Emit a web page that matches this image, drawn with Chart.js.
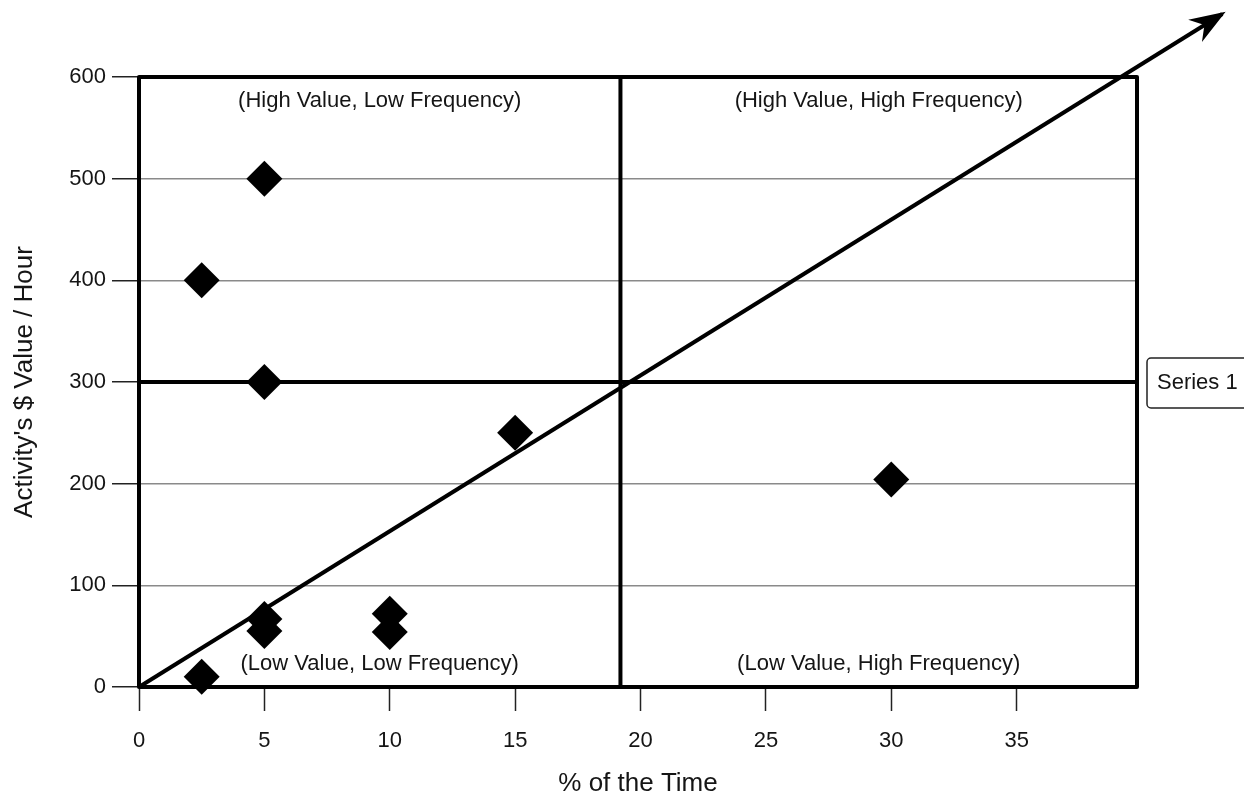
<!DOCTYPE html>
<html>
<head>
<meta charset="utf-8">
<script src="https://cdn.jsdelivr.net/npm/chart.js@4/dist/chart.umd.min.js"></script>
<style>
  html, body { margin: 0; padding: 0; background: #fff; }
  #wrap { width: 1244px; height: 797px; }
</style>
</head>
<body>
<div id="wrap"><canvas id="chart"></canvas></div>
<script>
// data
const pctTime     = [2.5, 5, 5, 10, 10, 2.5, 5, 5, 15, 30];
const dollarValue = [10, 55, 67, 54, 72, 400, 500, 300, 250, 204];
const trendX = [0, 43.2];
const trendY = [0, 662];
const xTicks = [0, 5, 10, 15, 20, 25, 30, 35];
const xMax = 39.8;
const yMax = 600;
const dividerX = 19.2;
const dividerY = 300;
const quadrantLabels = [
  '(High Value, Low Frequency)',
  '(High Value, High Frequency)',
  '(Low Value, Low Frequency)',
  '(Low Value, High Frequency)'
];
const seriesName = 'Series 1';

const FONT = "'Liberation Sans', Arial, sans-serif";
const INK = '#151515';

const quadrantPlugin = {
  id: 'quadrants',
  beforeDatasetsDraw(chart) {
    const { ctx, chartArea: a, scales: { x, y } } = chart;
    ctx.save();
    ctx.strokeStyle = '#000';
    ctx.lineWidth = 4;
    ctx.lineJoin = 'round';
    ctx.strokeRect(a.left, a.top, a.right - a.left, a.bottom - a.top);
    const dx = x.getPixelForValue(dividerX);
    const dy = y.getPixelForValue(dividerY);
    ctx.beginPath();
    ctx.moveTo(dx, a.top); ctx.lineTo(dx, a.bottom);
    ctx.moveTo(a.left, dy); ctx.lineTo(a.right, dy);
    ctx.stroke();

    ctx.fillStyle = INK;
    ctx.font = '22px ' + FONT;
    ctx.textAlign = 'center';
    ctx.textBaseline = 'middle';
    const cxL = (a.left + dx) / 2, cxR = (dx + a.right) / 2;
    ctx.fillText(quadrantLabels[0], cxL, a.top + 24);
    ctx.fillText(quadrantLabels[1], cxR, a.top + 24);
    ctx.fillText(quadrantLabels[2], cxL, a.bottom - 23);
    ctx.fillText(quadrantLabels[3], cxR, a.bottom - 23);
    ctx.restore();
  },
  afterDatasetsDraw(chart) {
    const { ctx, chartArea: a, scales: { x, y } } = chart;
    // arrow head at the end of the trend line
    const x0 = x.getPixelForValue(trendX[0]), y0 = y.getPixelForValue(trendY[0]);
    const x1 = x.getPixelForValue(trendX[1]), y1 = y.getPixelForValue(trendY[1]);
    const ang = Math.atan2(y1 - y0, x1 - x0);
    const len = 32, half = 13;
    ctx.save();
    ctx.translate(x1, y1);
    ctx.rotate(ang);
    ctx.fillStyle = '#000';
    ctx.beginPath();
    ctx.moveTo(4, 0);
    ctx.lineTo(-len, -half);
    ctx.lineTo(-len + 11, 0);
    ctx.lineTo(-len, half);
    ctx.closePath();
    ctx.fill();
    ctx.restore();

    // legend box
    ctx.save();
    const bx = a.right + 10, bh = 50, by = (a.top + a.bottom) / 2 - bh / 2 + 1;
    ctx.strokeStyle = '#222';
    ctx.lineWidth = 1.5;
    ctx.beginPath();
    ctx.roundRect(bx, by, 120, bh, 4);
    ctx.fillStyle = '#fff';
    ctx.fill();
    ctx.stroke();
    ctx.fillStyle = INK;
    ctx.font = '22px ' + FONT;
    ctx.textAlign = 'left';
    ctx.textBaseline = 'middle';
    ctx.fillText(seriesName, bx + 10, by + bh / 2);
    ctx.restore();
  }
};

new Chart(document.getElementById('chart'), {
  type: 'scatter',
  data: {
    datasets: [
      {
        label: seriesName,
        data: pctTime.map((v, i) => ({ x: v, y: dollarValue[i] })),
        pointStyle: 'rectRot',
        pointRadius: 18,
        pointHoverRadius: 18,
        backgroundColor: '#000',
        borderColor: '#000',
        borderWidth: 0,
        clip: false
      },
      {
        label: 'trend',
        data: trendX.map((v, i) => ({ x: v, y: trendY[i] })),
        showLine: true,
        borderColor: '#000',
        borderWidth: 4,
        pointRadius: 0,
        clip: false
      }
    ]
  },
  options: {
    responsive: true,
    maintainAspectRatio: false,
    animation: false,
    layout: { padding: { left: 0, top: 77, right: 107, bottom: 0 } },
    plugins: { legend: { display: false }, tooltip: { enabled: false } },
    scales: {
      x: {
        type: 'linear',
        min: 0,
        max: xMax,
        afterBuildTicks: (scale) => { scale.ticks = xTicks.map(v => ({ value: v })); },
        afterFit: (scale) => { scale.height = 110; },
        border: { display: false },
        grid: { drawOnChartArea: false, tickLength: 24, tickColor: '#222', tickWidth: 1.5 },
        ticks: { color: INK, font: { family: FONT, size: 22 }, padding: 17, maxRotation: 0 },
        title: { display: true, text: '% of the Time', color: INK, font: { family: FONT, size: 26 }, padding: { top: 0, bottom: -2 } }
      },
      y: {
        min: 0,
        max: yMax,
        ticks: { stepSize: 100, color: INK, font: { family: FONT, size: 22 }, padding: 6 },
        afterFit: (scale) => { scale.width = 139; },
        border: { display: false },
        grid: {
          color: (c) => (c.tick && (c.tick.value === 0 || c.tick.value === yMax || c.tick.value === dividerY)) ? 'rgba(0,0,0,0)' : '#8a8a8a',
          lineWidth: 1.5,
          tickLength: 27,
          tickColor: '#222',
          tickWidth: 1.5
        },
        title: { display: true, text: "Activity's $ Value / Hour", color: INK, font: { family: FONT, size: 26 }, padding: { top: 9, bottom: 0 } }
      }
    }
  },
  plugins: [quadrantPlugin]
});
</script>
</body>
</html>
